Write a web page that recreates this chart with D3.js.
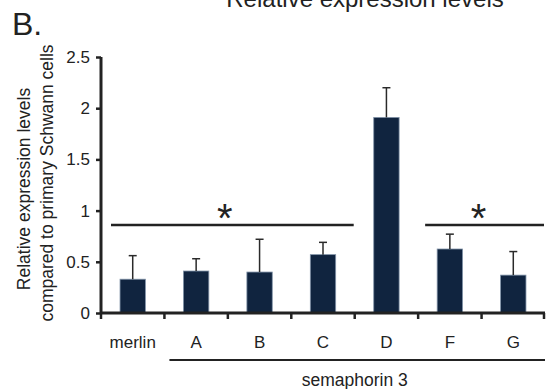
<!DOCTYPE html>
<html>
<head>
<meta charset="utf-8">
<script src="https://cdn.jsdelivr.net/npm/d3@7"></script>
<style>
  body { margin: 0; background: #fff; }
  svg { display: block; font-family: Arial, "Liberation Sans", sans-serif; }
</style>
</head>
<body>
<svg id="chart" width="546" height="389"></svg>
<script>
// data
const categories = ["merlin", "A", "B", "C", "D", "F", "G"];
const means = [0.33, 0.41, 0.40, 0.57, 1.91, 0.625, 0.37];
const errTops = [0.56, 0.53, 0.72, 0.69, 2.20, 0.77, 0.60];
const yTicks = [0, 0.5, 1, 1.5, 2, 2.5];
const sigGroups = [["merlin", "C"], ["F", "G"]];
const sigLevel = 0.86;
const groupLabel = "semaphorin 3";
const groupStart = "A";

const margin = {top: 57, right: 1, bottom: 76, left: 101};
const width = 546, height = 389;
const ink = "#222";

const svg = d3.select("#chart");

const x = d3.scaleBand()
  .domain(categories)
  .range([margin.left, width - margin.right])
  .paddingInner(0).paddingOuter(0);

const y = d3.scaleLinear()
  .domain([0, 2.5])
  .range([height - margin.bottom, margin.top]);

const bw = x.bandwidth();
const barW = bw * 0.4;

// title (cut off at the top in the original)
svg.append("text")
  .attr("x", 365).attr("y", 7)
  .attr("text-anchor", "middle")
  .style("font-size", "24px").style("fill", ink)
  .text("Relative expression levels");

svg.append("text")
  .attr("x", 12).attr("y", 35)
  .style("font-size", "32px").style("fill", ink)
  .text("B.");

// Y axis
const yAxis = svg.append("g")
  .attr("transform", "translate(" + margin.left + ",0)")
  .call(d3.axisLeft(y).tickValues(yTicks).tickSize(5).tickPadding(6).tickFormat(d => String(d)));
yAxis.select(".domain").attr("d", "M0," + y(2.5) + "V" + y(0)).style("stroke", ink).style("stroke-width", 3);
yAxis.selectAll(".tick line").style("stroke", ink).style("stroke-width", 2.5);
yAxis.selectAll(".tick text")
  .style("font-size", "17px").style("fill", ink).style("font-family", "Arial, 'Liberation Sans', sans-serif");

// y label
const yl = svg.append("g").style("font-size", "17.5px").style("fill", ink);
yl.append("text")
  .attr("transform", "translate(30,189) rotate(-90)")
  .attr("text-anchor", "middle")
  .text("Relative expression levels");
yl.append("text")
  .attr("transform", "translate(52.5,183) rotate(-90)")
  .attr("text-anchor", "middle")
  .text("compared to primary Schwann cells");

// bars
svg.append("g").selectAll("rect")
  .data(categories)
  .enter().append("rect")
  .attr("x", d => x(d) + (bw - barW) / 2)
  .attr("y", (d, i) => y(means[i]))
  .attr("width", barW)
  .attr("height", (d, i) => y(0) - y(means[i]))
  .style("fill", "#10243f")
  .style("stroke", "#8193a8")
  .style("stroke-width", 0.8);

// error bars
const eb = svg.append("g").style("stroke", "#2a2a2a").style("stroke-width", 1.5);
categories.forEach((c, i) => {
  const cx = x(c) + bw / 2;
  eb.append("line").attr("x1", cx).attr("x2", cx).attr("y1", y(means[i])).attr("y2", y(errTops[i]));
  eb.append("line").attr("x1", cx - 4).attr("x2", cx + 4).attr("y1", y(errTops[i])).attr("y2", y(errTops[i]));
});

// X axis
const xAxis = svg.append("g").attr("transform", "translate(0," + y(0) + ")");
xAxis.append("line")
  .attr("x1", margin.left).attr("x2", width - margin.right)
  .style("stroke", ink).style("stroke-width", 3);
const bounds = categories.map(c => x(c)).concat([x.range()[1]]);
xAxis.selectAll(".bt")
  .data(bounds)
  .enter().append("line")
  .attr("x1", d => Math.min(d, width - 2)).attr("x2", d => Math.min(d, width - 2))
  .attr("y1", 0).attr("y2", 6)
  .style("stroke", ink).style("stroke-width", 2.5);
xAxis.selectAll(".lbl")
  .data(categories)
  .enter().append("text")
  .attr("x", d => x(d) + bw / 2)
  .attr("y", 35)
  .attr("text-anchor", "middle")
  .style("font-size", "17px").style("fill", ink)
  .text(d => d);

// group line + label
svg.append("line")
  .attr("x1", x(groupStart) + 5).attr("x2", width - margin.right)
  .attr("y1", 360).attr("y2", 360)
  .style("stroke", ink).style("stroke-width", 2);
svg.append("text")
  .attr("x", (x(groupStart) + x.range()[1]) / 2)
  .attr("y", 386)
  .attr("text-anchor", "middle")
  .style("font-size", "17.5px").style("fill", ink)
  .text(groupLabel);

// significance lines
const sig = svg.append("g");
sigGroups.forEach(([a, b], k) => {
  const x1 = x(a) + (k === 0 ? 10 : 7);
  const x2 = x(b) + bw - 1;
  sig.append("line")
    .attr("x1", x1).attr("x2", x2)
    .attr("y1", y(sigLevel)).attr("y2", y(sigLevel))
    .style("stroke", ink).style("stroke-width", 2.6);
  sig.append("text")
    .attr("x", (x(a) + x(b) + bw) / 2 - 3)
    .attr("y", y(sigLevel) + 7)
    .attr("text-anchor", "middle")
    .style("font-size", "40px").style("fill", ink)
    .text("*");
});
</script>
</body>
</html>
